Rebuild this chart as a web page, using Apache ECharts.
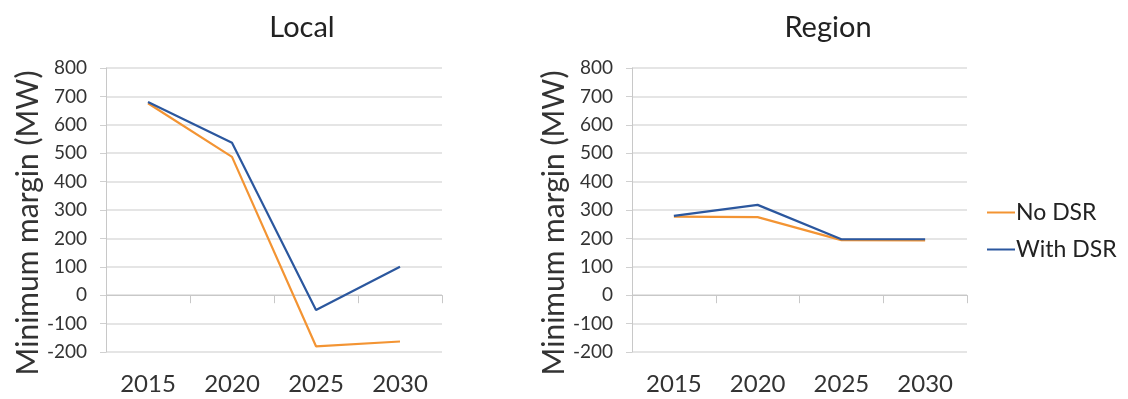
<!DOCTYPE html>
<html>
<head>
<meta charset="utf-8">
<script src="https://cdn.jsdelivr.net/npm/echarts@6/dist/echarts.min.js"></script>
<style>
html,body{margin:0;padding:0;background:#fff;}
#chart{width:1128px;height:399px;}
</style>
</head>
<body>
<div id="chart"></div>
<script>
// data
var years = ['2015', '2020', '2025', '2030'];
var localNoDsr = [676, 487, -180, -163];
var localWithDsr = [680, 537, -52, 100];
var regionNoDsr = [277, 275, 194, 193];
var regionWithDsr = [279, 318, 197, 197];
var yTicks = [-200, -100, 0, 100, 200, 300, 400, 500, 600, 700, 800];

var orange = '#f39433';
var blue = '#2b579e';
var textColor = '#333';
var font = 'Lato';

function xLine(grid) {
    return {
        type: 'category', gridIndex: grid, data: years, boundaryGap: true,
        axisLine: {onZero: true, lineStyle: {color: '#c8c8c8', width: 1}},
        axisTick: {show: true, alignWithLabel: false, length: 8, lineStyle: {color: '#c8c8c8'}},
        axisLabel: {show: false}
    };
}
function xLabels(grid) {
    return {
        type: 'category', gridIndex: grid, data: years, position: 'bottom',
        axisLine: {show: false, onZero: false}, axisTick: {show: false},
        axisLabel: {fontFamily: font, fontSize: 24, color: textColor, margin: 20}
    };
}
function yAxis(grid) {
    return {
        type: 'value', gridIndex: grid, min: yTicks[0], max: yTicks[yTicks.length - 1], interval: 100,
        name: 'Minimum margin (MW)', nameLocation: 'middle', nameGap: 60,
        nameTextStyle: {fontFamily: font, fontSize: 30, color: textColor, padding: [0, 26, 0, 0]},
        axisLine: {show: true, lineStyle: {color: '#c8c8c8'}},
        axisTick: {show: true, length: 6, lineStyle: {color: '#d0d0d0'}},
        axisLabel: {fontFamily: font, fontSize: 19, color: textColor, margin: 19},
        splitLine: {lineStyle: {color: '#dcdcdc', width: 1.5}}
    };
}
function line(name, xi, yi, data, color) {
    return {
        name: name, type: 'line', xAxisIndex: xi, yAxisIndex: yi, data: data,
        showSymbol: false, symbol: 'none', lineStyle: {color: color, width: 2.2},
        itemStyle: {color: color}
    };
}

var chart = echarts.init(document.getElementById('chart'));
var option = {
    animation: false,
    title: [
        {text: 'Local', left: 297, top: 8, textAlign: 'center',
            textStyle: {fontFamily: font, fontSize: 29, fontWeight: 'normal', color: '#222'}},
        {text: 'Region', left: 823, top: 8, textAlign: 'center',
            textStyle: {fontFamily: font, fontSize: 29, fontWeight: 'normal', color: '#222'}}
    ],
    legend: {
        data: ['No DSR', 'With DSR'], orient: 'vertical', left: 982, top: 196,
        icon: 'rect', itemWidth: 28, itemHeight: 2, itemGap: 14,
        textStyle: {fontFamily: font, fontSize: 23, color: '#222', padding: [0, 0, 0, -4]}
    },
    grid: [
        {left: 106, right: 686, top: 68, bottom: 47},
        {left: 632, right: 161, top: 68, bottom: 47}
    ],
    xAxis: [xLine(0), xLabels(0), xLine(1), xLabels(1)],
    yAxis: [yAxis(0), yAxis(1)],
    series: [
        line('No DSR', 0, 0, localNoDsr, orange),
        line('With DSR', 0, 0, localWithDsr, blue),
        line('No DSR', 2, 1, regionNoDsr, orange),
        line('With DSR', 2, 1, regionWithDsr, blue)
    ]
};
chart.setOption(option);
</script>
</body>
</html>
